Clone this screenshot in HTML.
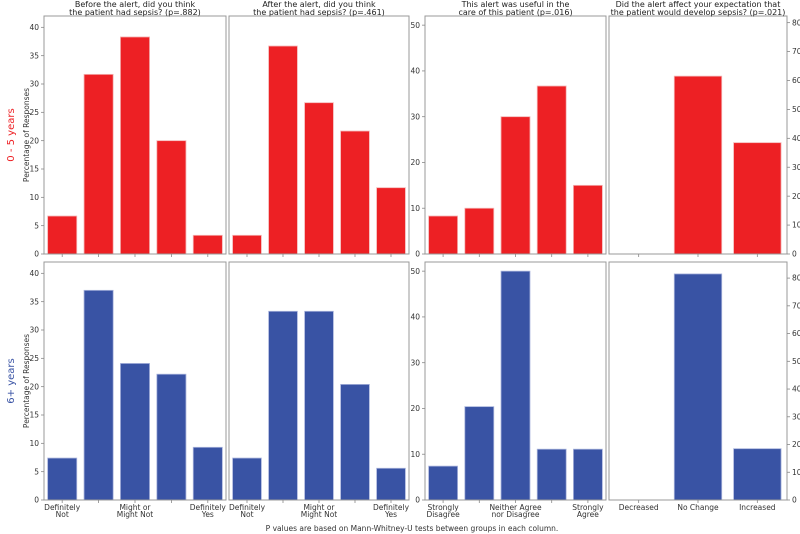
<!DOCTYPE html>
<html><head><meta charset="utf-8"><style>
body{margin:0;background:#fff;}
svg{display:block;font-family:"DejaVu Sans","Liberation Sans",sans-serif;}
</style></head><body>
<svg id="chart" width="800" height="534" viewBox="0 0 800 534"></svg>
<script>
const cats5a = ["Definitely\nNot", "", "Might or\nMight Not", "", "Definitely\nYes"];
const cats5b = ["Strongly\nDisagree", "", "Neither Agree\nnor Disagree", "", "Strongly\nAgree"];
const cats3 = ["Decreased", "No Change", "Increased"];
const titles = ["Before the alert, did you think\nthe patient had sepsis? (p=.882)",
  "After the alert, did you think\nthe patient had sepsis? (p=.461)",
  "This alert was useful in the\ncare of this patient (p=.016)",
  "Did the alert affect your expectation that\nthe patient would develop sepsis? (p=.021)"];
const young1 = [6.7, 31.7, 38.3, 20.0, 3.3];
const young2 = [3.3, 36.7, 26.7, 21.7, 11.7];
const young3 = [8.3, 10.0, 30.0, 36.7, 15.0];
const young4 = [0, 61.5, 38.5];
const old1 = [7.4, 37.0, 24.1, 22.2, 9.3];
const old2 = [7.4, 33.3, 33.3, 20.4, 5.6];
const old3 = [7.4, 20.4, 50.0, 11.1, 11.1];
const old4 = [0, 81.5, 18.5];
const ticksA = [0, 5, 10, 15, 20, 25, 30, 35, 40];
const ticksB = [0, 10, 20, 30, 40, 50];
const ticksC = [0, 10, 20, 30, 40, 50, 60, 70, 80];

const svg = document.getElementById('chart');
const NS = 'http://www.w3.org/2000/svg';
function mk(tag, attrs, parent){const e=document.createElementNS(NS,tag);for(const k in attrs)e.setAttribute(k,attrs[k]);(parent||svg).appendChild(e);return e;}
function txt(str, x, y, size, anchor, fill, parent, rot, lh){
  const t = mk('text',{x:x,y:y,'font-size':size,'text-anchor':anchor,fill:fill||'#333'},parent);
  if(rot) t.setAttribute('transform','rotate(-90 '+x+' '+y+')');
  const lines = str.split('\n');
  lines.forEach((l,i)=>{const s=mk('tspan',{x:x,dy:i?(lh||size*1.15):0},t);s.textContent=l;});
  return t;
}
const cols = [{x0:44,x1:226},{x0:229,x1:409},{x0:425,x1:606},{x0:609,x1:787}];
const rows = [{y0:16,y1:254,color:'#ed2024'},{y0:262,y1:500,color:'#3953a4'}];
const maxA=[42,42], maxB=[52,52], maxC=[82.3,85.8];
const dataRows=[[young1,young2,young3,young4],[old1,old2,old3,old4]];
const catSets=[cats5a,cats5a,cats5b,cats3];

rows.forEach((r,ri)=>{
  cols.forEach((c,ci)=>{
    const g = mk('g',{});
    
    
    const vals = dataRows[ri][ci];
    const n = vals.length;
    const ymax = ci<2?maxA[ri]:(ci==2?maxB[ri]:maxC[ri]);
    const yS = v => r.y1 - v/ymax*(r.y1-r.y0);
    const step = (c.x1-c.x0)/n;
    const xS = i => c.x0 + step*(i+0.5);
    vals.forEach((v,i)=>{
      if(v<=0) return;
      const b = mk('rect',{x:xS(i)-step*0.4,y:yS(v),width:step*0.8,height:r.y1-yS(v),fill:r.color,stroke:'#f4b4b4','stroke-width':0.8},g);
      if(ri==1) b.setAttribute('stroke','#a9b4dc');
      
      
    });
    mk('rect',{x:c.x0,y:r.y0,width:c.x1-c.x0,height:r.y1-r.y0,fill:'none',stroke:'#999','stroke-width':1},g);
    for(let i=0;i<n;i++){
      mk('line',{x1:xS(i),x2:xS(i),y1:r.y1,y2:r.y1+3,stroke:'#888','stroke-width':0.8},g);
      if(ri==1 && catSets[ci][i]) txt(catSets[ci][i], xS(i), r.y1+10, 7.5, 'middle', '#333', g, false, 7);
    }
    let ticks=null, side='left';
    if(ci==0) ticks=ticksA; else if(ci==2) ticks=ticksB; else if(ci==3){ticks=ticksC;side='right';}
    if(ticks){
      ticks.forEach(t=>{
        const y=yS(t);
        if(side=='left'){
          mk('line',{x1:c.x0-3,x2:c.x0,y1:y,y2:y,stroke:'#888','stroke-width':0.8},g);
          txt(String(t), c.x0-5, y+2.6, 7.5, 'end', '#333', g);
        } else {
          mk('line',{x1:c.x1,x2:c.x1+3,y1:y,y2:y,stroke:'#888','stroke-width':0.8},g);
          txt(String(t), c.x1+5, y+2.6, 7.5, 'start', '#333', g);
        }
      });
    }
    if(ri==0){
      const tt = txt(titles[ci], (c.x0+c.x1)/2, 7, 8, 'middle', '#222', g, false, 8);
      
      
    }
  });
  const yl = txt('Percentage of Responses', 29, (r.y0+r.y1)/2, 7.5, 'middle', '#333', null, true);
  
  
  const rl = txt(ri==0?'0 - 5 years':'6+ years', 14, (r.y0+r.y1)/2, 10, 'middle', r.color, null, true);
  
  
});
const ft = txt('P values are based on Mann-Whitney-U tests between groups in each column.', 412, 531, 7.5, 'middle', '#333');


</script>
</body></html>
